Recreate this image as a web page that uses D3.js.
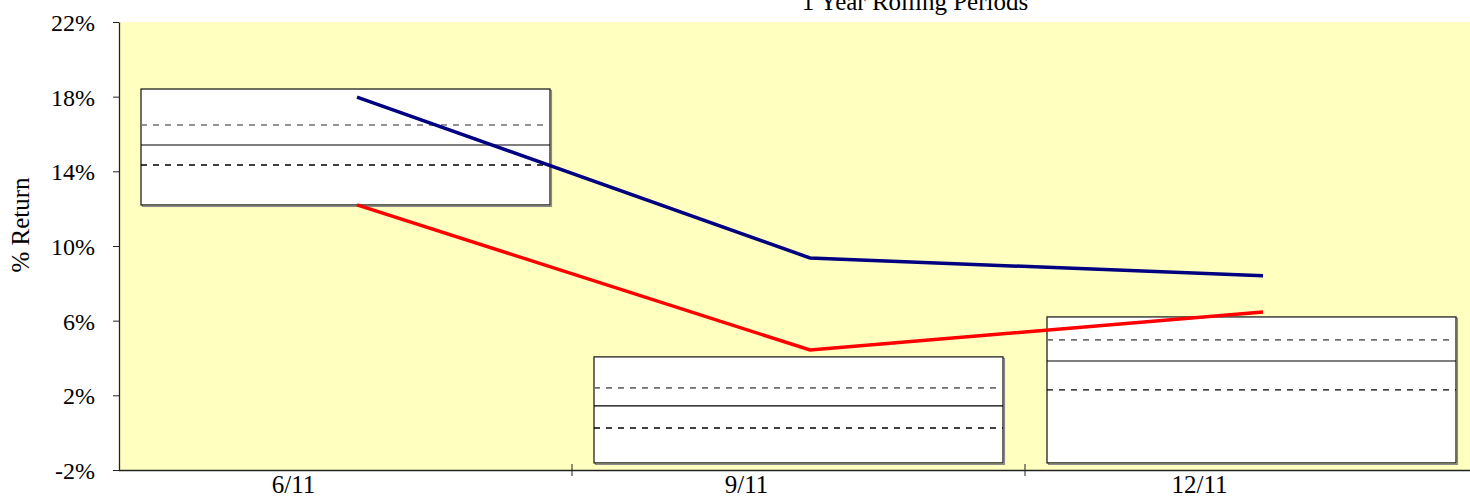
<!DOCTYPE html>
<html>
<head>
<meta charset="utf-8">
<script src="https://cdn.jsdelivr.net/npm/d3@7"></script>
<style>
  html, body { margin: 0; padding: 0; background: #ffffff; }
  svg { display: block; }
  text { font-family: "Liberation Serif", "Times New Roman", serif; fill: #000; }
</style>
</head>
<body>
<svg id="chart" width="1470" height="498"></svg>
<script>
// Quarter-end periods
const categories = ["6/11", "9/11", "12/11"];

// Peer-range boxes (% return): top, upper quartile, median, lower quartile, bottom
const boxTop    = [18.41, 4.06, 6.20];
const boxUpper  = [16.48, 2.40, 4.97];
const boxMedian = [15.41, 1.43, 3.84];
const boxLower  = [14.34, 0.25, 2.29];
const boxBottom = [12.20, -1.62, -1.62];

// Rolling 1-year returns of the two series
const seriesBlue = [17.98, 9.36, 8.40];
const seriesRed  = [12.20, 4.43, 6.47];

// Y-axis tick values
const yTicks = [-2, 2, 6, 10, 14, 18, 22];

const svg = d3.select("#chart");
const plot = { left: 119, right: 1478, top: 22, bottom: 470 };

const x = d3.scaleBand().domain(categories).range([plot.left, plot.right]);
const y = d3.scaleLinear().domain([-2, 22]).range([plot.bottom, plot.top]);

// Plot background
svg.append("rect")
  .attr("x", plot.left).attr("y", plot.top)
  .attr("width", 1470 - plot.left).attr("height", plot.bottom - plot.top)
  .attr("fill", "#ffffc0");

// Boxes
const inset = 22;
const boxes = categories.map((c, i) => ({
  c, top: boxTop[i], up: boxUpper[i], med: boxMedian[i], low: boxLower[i], bot: boxBottom[i]
}));
const bg = svg.append("g");
boxes.forEach(b => {
  const x0 = x(b.c) + inset, w = x.bandwidth() - 2 * inset;
  // soft drop shadow
  bg.append("rect")
    .attr("x", x0 + 1.5).attr("y", y(b.top) + 1.5)
    .attr("width", w).attr("height", y(b.bot) - y(b.top))
    .attr("fill", "none").attr("stroke", "#8a8a8a").attr("stroke-width", 1.2);
  bg.append("rect")
    .attr("x", x0).attr("y", y(b.top))
    .attr("width", w).attr("height", y(b.bot) - y(b.top))
    .attr("fill", "#ffffff").attr("stroke", "#222").attr("stroke-width", 1.3);
  bg.append("line")
    .attr("x1", x0).attr("x2", x0 + w).attr("y1", y(b.up)).attr("y2", y(b.up))
    .attr("stroke", "#707070").attr("stroke-width", 1.6).attr("stroke-dasharray", "6,6");
  bg.append("line")
    .attr("x1", x0).attr("x2", x0 + w).attr("y1", y(b.med)).attr("y2", y(b.med))
    .attr("stroke", "#000").attr("stroke-width", 1.2);
  bg.append("line")
    .attr("x1", x0).attr("x2", x0 + w).attr("y1", y(b.low)).attr("y2", y(b.low))
    .attr("stroke", "#000").attr("stroke-width", 1.3).attr("stroke-dasharray", "6,6");
});

// Series lines
const pointOffset = 11.5;
const line = d3.line()
  .x((d, i) => x(categories[i]) + x.bandwidth() / 2 + pointOffset)
  .y(d => y(d));
svg.append("path").datum(seriesBlue)
  .attr("d", line).attr("fill", "none")
  .attr("stroke", "#000080").attr("stroke-width", 3.5);
svg.append("path").datum(seriesRed)
  .attr("d", line).attr("fill", "none")
  .attr("stroke", "#ff0000").attr("stroke-width", 3.5);

// Y axis
const yAxis = svg.append("g")
  .attr("transform", `translate(${plot.left},0)`)
  .call(d3.axisLeft(y).tickValues(yTicks).tickSize(6).tickSizeOuter(0)
    .tickFormat(d => d + "%"));
yAxis.select(".domain").attr("stroke", "#222").attr("stroke-width", 1.3);
yAxis.selectAll(".tick line").attr("stroke", "#222");
yAxis.selectAll(".tick text")
  .attr("x", -24).attr("dy", "0.35em")
  .style("font-family", "Liberation Serif, serif").style("font-size", "24px").attr("fill", "#000");

// X axis
const xAxis = svg.append("g")
  .attr("transform", `translate(0,${plot.bottom})`)
  .call(d3.axisBottom(x).tickSize(0).tickSizeOuter(0));
xAxis.select(".domain").attr("stroke", "#222").attr("stroke-width", 1.6)
  .attr("d", `M${plot.left},0.5H1470`);
xAxis.selectAll(".tick text")
  .attr("dx", -52).attr("y", 23).attr("dy", 0)
  .style("font-family", "Liberation Serif, serif").style("font-size", "25px").attr("fill", "#000");
// category separators
svg.append("g").selectAll("line")
  .data(categories.slice(1))
  .join("line")
  .attr("x1", d => x(d)).attr("x2", d => x(d))
  .attr("y1", plot.bottom - 6).attr("y2", plot.bottom + 6)
  .attr("stroke", "#222").attr("stroke-width", 1);

// Y axis title
svg.append("text")
  .attr("transform", "translate(29,225) rotate(-90)")
  .attr("text-anchor", "middle")
  .style("font-size", "25px")
  .text("% Return");

// Chart title
svg.append("text")
  .attr("x", 915).attr("y", 10)
  .attr("text-anchor", "middle")
  .style("font-size", "25px")
  .text("1 Year Rolling Periods");
</script>
</body>
</html>
